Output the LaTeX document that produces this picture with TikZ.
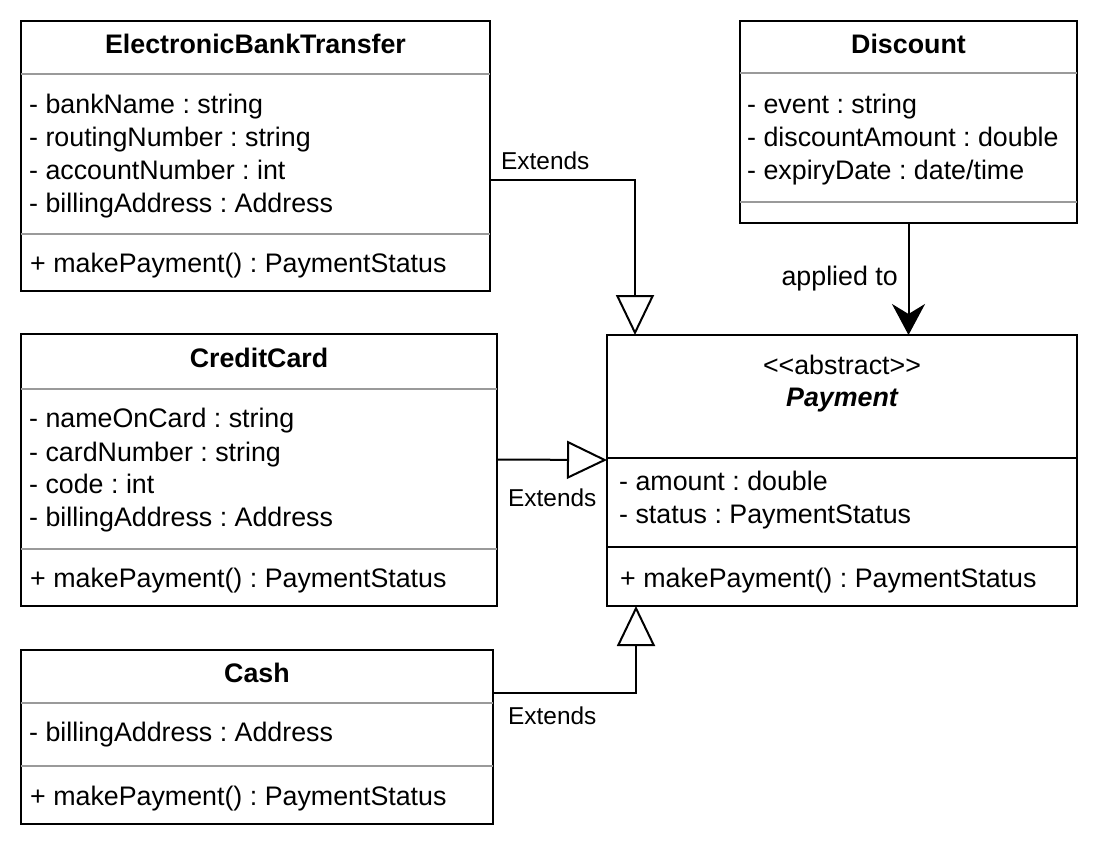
\documentclass[tikz,border=0pt]{standalone}
\usepackage{fontspec}
\setmainfont{Liberation Sans}
\usetikzlibrary{arrows.meta}
\definecolor{sepgray}{HTML}{9A9A9A}
\frenchspacing
\begin{document}
\frenchspacing
\begin{tikzpicture}[x=1pt,y=-1pt,
  classbox/.style={draw=black, line width=2pt, fill=white, rectangle, inner sep=0pt, outer sep=0pt, anchor=north west},
  sepline/.style={draw=sepgray, line width=2pt},
  sepblack/.style={draw=black, line width=2pt},
  attr/.style={anchor=base west, inner sep=0pt, font=\fontsize{26.8}{32}\selectfont},
  ttl/.style={anchor=base, inner sep=0pt, font=\fontsize{26.8}{32}\selectfont\bfseries},
  lbl/.style={anchor=base west, inner sep=0pt, font=\fontsize{24.4}{29}\selectfont},
  extarrow/.style={draw=black, line width=2pt, -{Triangle[open, length=40pt, width=38pt, line width=2pt]}},
  assoc/.style={draw=black, line width=2pt, -{Stealth[length=31pt, width=33pt, inset=10pt]}}
]
\useasboundingbox[fill=white] (0,0) rectangle (1098,844);

% ElectronicBankTransfer
\node[classbox, minimum width=469pt, minimum height=270pt] (ebt) at (21,21) {};
\draw[sepline] (ebt.west |- 0,74) -- (ebt.east |- 0,74);
\draw[sepline] (ebt.west |- 0,234) -- (ebt.east |- 0,234);
\node[ttl] (ebtt) at (255.5,53) {ElectronicBankTransfer};
\node[attr] (ebt1) at (29,113) {- bankName : string};
\node[attr] (ebt2) at (29,146) {- routingNumber : string};
\node[attr] (ebt3) at (29,179) {- accountNumber : int};
\node[attr] (ebt4) at (29,212) {- billingAddress : Address};
\node[attr] (ebtm) at (30,272) {+ makePayment() : PaymentStatus};

% Discount
\node[classbox, minimum width=337pt, minimum height=202pt] (disc) at (740,21) {};
\draw[sepline] (disc.west |- 0,73) -- (disc.east |- 0,73);
\draw[sepline] (disc.west |- 0,202) -- (disc.east |- 0,202);
\node[ttl] (disct) at (908.5,53) {Discount};
\node[attr] (disc1) at (747,113) {- event : string};
\node[attr] (disc2) at (747,146) {- discountAmount : double};
\node[attr] (disc3) at (747,179) {- expiryDate : date/time};

% Payment
\node[classbox, minimum width=470pt, minimum height=271pt] (pay) at (607,335) {};
\draw[sepblack] (pay.west |- 0,458) -- (pay.east |- 0,458);
\draw[sepblack] (pay.west |- 0,547) -- (pay.east |- 0,547);
\node[anchor=base, inner sep=0pt, font=\fontsize{26.8}{32}\selectfont] (payst) at (842,374) {<{}<abstract>{}>};
\node[anchor=base, inner sep=0pt, font=\fontsize{26.8}{32}\selectfont\bfseries\itshape] (payt) at (842,406) {Payment};
\node[attr] (pay1) at (619,490) {- amount : double};
\node[attr] (pay2) at (619,523) {- status : PaymentStatus};
\node[attr] (paym) at (620,587) {+ makePayment() : PaymentStatus};

% CreditCard
\node[classbox, minimum width=476pt, minimum height=272pt] (cc) at (21,334) {};
\draw[sepline] (cc.west |- 0,389) -- (cc.east |- 0,389);
\draw[sepline] (cc.west |- 0,549) -- (cc.east |- 0,549);
\node[ttl] (cct) at (259,367) {CreditCard};
\node[attr] (cc1) at (29,427) {- nameOnCard : string};
\node[attr] (cc2) at (29,461) {- cardNumber : string};
\node[attr] (cc3) at (29,493) {- code : int};
\node[attr] (cc4) at (29,526) {- billingAddress : Address};
\node[attr] (ccm) at (30,587) {+ makePayment() : PaymentStatus};

% Cash
\node[classbox, minimum width=472pt, minimum height=174pt] (cash) at (21,650) {};
\draw[sepline] (cash.west |- 0,703) -- (cash.east |- 0,703);
\draw[sepline] (cash.west |- 0,766) -- (cash.east |- 0,766);
\node[ttl] (casht) at (257,682) {Cash};
\node[attr] (cash1) at (29,741) {- billingAddress : Address};
\node[attr] (cashm) at (30,805) {+ makePayment() : PaymentStatus};

% Connectors
\draw[extarrow] ([yshift=-24pt]ebt.east) -| ([xshift=28pt]pay.north west);
\draw[extarrow] ([yshift=10.5pt]cc.east) -- ([yshift=10.5pt]pay.west);
\draw[extarrow] ([yshift=44pt]cash.east) -| ([xshift=29pt]pay.south west);
\draw[assoc] (disc.south) -- (disc.south |- pay.north);

% Labels
\node[lbl] (l1) at (501,169) {Extends};
\node[lbl] (l2) at (508,506) {Extends};
\node[lbl] (l3) at (508,724) {Extends};
\node[anchor=base east, inner sep=0pt, font=\fontsize{26.8}{32}\selectfont] (l4) at (898,285) {applied to};
\end{tikzpicture}
\end{document}
